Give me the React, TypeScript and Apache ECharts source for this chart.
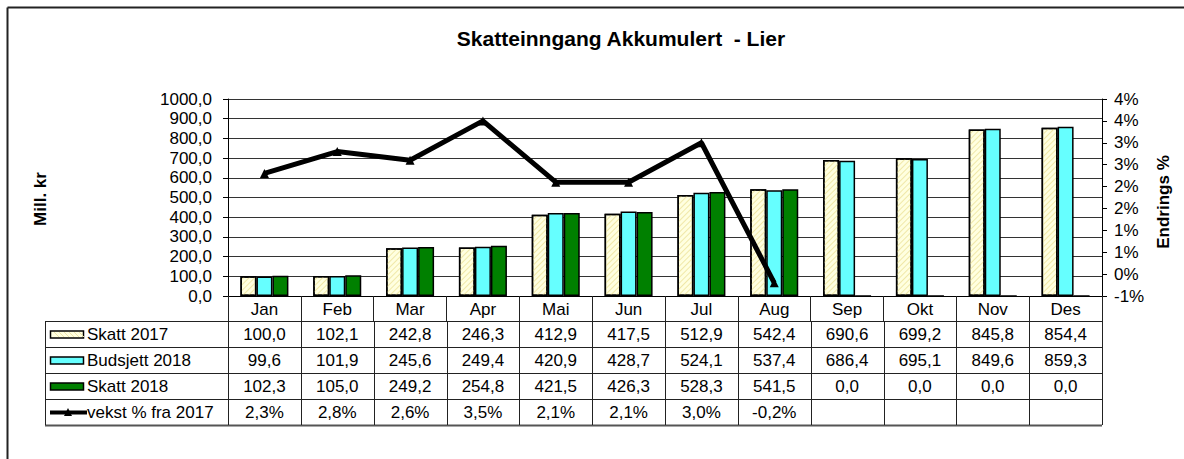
import React, { useEffect, useRef } from "react";
import * as echarts from "echarts";

const categories = ["Jan", "Feb", "Mar", "Apr", "Mai", "Jun", "Jul", "Aug", "Sep", "Okt", "Nov", "Des"];
const skatt2017 = [100.0, 102.1, 242.8, 246.3, 412.9, 417.5, 512.9, 542.4, 690.6, 699.2, 845.8, 854.4];
const budsjett2018 = [99.6, 101.9, 245.6, 249.4, 420.9, 428.7, 524.1, 537.4, 686.4, 695.1, 849.6, 859.3];
const skatt2018 = [102.3, 105.0, 249.2, 254.8, 421.5, 426.3, 528.3, 541.5, 0.0, 0.0, 0.0, 0.0];
const vekst: (number | null)[] = [2.3, 2.8, 2.6, 3.5, 2.1, 2.1, 3.0, -0.2, null, null, null, null];
const seriesNames = ["Skatt 2017", "Budsjett 2018", "Skatt 2018", "vekst % fra 2017"];
const title = "Skatteinngang Akkumulert  - Lier";
const leftAxisName = "Mill. kr";
const rightAxisName = "Endrings %";

const FONT = '"Liberation Sans", Arial, sans-serif';
const FS = 17;
const GRID_L = 228;
const GRID_R = 1102;
const GRID_T = 99;
const GRID_B = 296;
const TABLE_L = 45;
const ROW_TOP = 321;
const ROW_H = 26;

const fmt1 = (v: number) => v.toFixed(1).replace(".", ",");
const fmtPct = (v: number | null) => (v == null ? "" : v.toFixed(1).replace(".", ",") + "%");

function txt(text: string, x: number, y: number, align = "center", extra: any = {}) {
  return {
    type: "text",
    x,
    y,
    silent: true,
    style: {
      text,
      fill: "#000",
      fontSize: FS,
      fontFamily: FONT,
      align,
      verticalAlign: "middle",
      textAlign: align,
      textVerticalAlign: "middle",
      ...extra,
    },
  };
}

export default function App() {
  const ref = useRef<HTMLDivElement>(null);
  useEffect(() => {
    document.body.style.margin = "0";
    const chart = echarts.init(ref.current!, null, { renderer: "svg" });
    const colW = (GRID_R - GRID_L) / categories.length;
    const graphics: any[] = [];
    // outer border
    graphics.push({ type: "line", silent: true, shape: { x1: 7.5, y1: 7.5, x2: 1184, y2: 7.5 }, style: { stroke: "#222", lineWidth: 2 } });
    graphics.push({ type: "line", silent: true, shape: { x1: 7.5, y1: 7.5, x2: 7.5, y2: 459 }, style: { stroke: "#222", lineWidth: 2 } });
    // axis names
    graphics.push(txt(leftAxisName, 40, 199, "center", { fontSize: 17, fontWeight: "bold" }));
    graphics[graphics.length - 1].rotation = Math.PI / 2;
    graphics.push(txt(rightAxisName, 1163, 202, "center", { fontSize: 17, fontWeight: "bold" }));
    graphics[graphics.length - 1].rotation = Math.PI / 2;
    // table lines
    for (let r = 0; r <= 4; r++) {
      const y = ROW_TOP + r * ROW_H + 0.5;
      graphics.push({ type: "line", silent: true, shape: { x1: TABLE_L, y1: y, x2: GRID_R, y2: y }, style: { stroke: r === 4 ? "#555" : "#222", lineWidth: r === 4 ? 2 : 1 } });
    }
    const yBot = ROW_TOP + 4 * ROW_H;
    graphics.push({ type: "line", silent: true, shape: { x1: TABLE_L + 0.5, y1: ROW_TOP, x2: TABLE_L + 0.5, y2: yBot }, style: { stroke: "#222", lineWidth: 1 } });
    for (let i = 0; i <= categories.length; i++) {
      const x = Math.round(GRID_L + i * colW) + 0.5;
      graphics.push({ type: "line", silent: true, shape: { x1: x, y1: ROW_TOP, x2: x, y2: yBot }, style: { stroke: "#222", lineWidth: 1 } });
    }
    // table values
    const rows: string[][] = [
      skatt2017.map(fmt1),
      budsjett2018.map(fmt1),
      skatt2018.map(fmt1),
      vekst.map(fmtPct),
    ];
    rows.forEach((row, r) => {
      const cy = ROW_TOP + r * ROW_H + ROW_H / 2 + 0.5;
      row.forEach((s, i) => {
        if (s) graphics.push(txt(s, GRID_L + (i + 0.5) * colW, cy));
      });
      graphics.push(txt(seriesNames[r], 87, cy, "left"));
    });
    // legend keys
    const keyY = (r: number) => ROW_TOP + r * ROW_H + ROW_H / 2;
    graphics.push({ type: "rect", silent: true, shape: { x: 50.5, y: keyY(0) - 3, width: 33, height: 7 }, style: { fill: "#FFFFE0", stroke: "#000", lineWidth: 1.5 } });
    for (let k = 0; k < 6; k++) {
      const x0 = 54 + k * 5;
      graphics.push({ type: "line", silent: true, shape: { x1: x0, y1: keyY(0) - 2, x2: x0 + 5, y2: keyY(0) + 3 }, style: { stroke: "#EEE6A8", lineWidth: 1 } });
    }
    graphics.push({ type: "rect", silent: true, shape: { x: 50.5, y: keyY(1) - 3, width: 33, height: 7 }, style: { fill: "#66FFFF", stroke: "#000", lineWidth: 1.5 } });
    graphics.push({ type: "rect", silent: true, shape: { x: 50.5, y: keyY(2) - 3, width: 33, height: 7 }, style: { fill: "#008000", stroke: "#000", lineWidth: 1.5 } });
    graphics.push({ type: "line", silent: true, shape: { x1: 50, y1: keyY(3) + 0.5, x2: 87, y2: keyY(3) + 0.5 }, style: { stroke: "#000", lineWidth: 4 } });
    graphics.push({ type: "polygon", silent: true, shape: { points: [[68, keyY(3) - 4], [64, keyY(3) + 4], [72, keyY(3) + 4]] }, style: { fill: "#000" } });

    const barBase = {
      type: "bar",
      barWidth: 16,
      barGap: "0%",
      yAxisIndex: 0,
    };

    chart.setOption({
      animation: false,
      backgroundColor: "#fff",
      textStyle: { fontFamily: FONT },
      title: {
        text: title,
        left: 616,
        textAlign: "center",
        top: 23,
        textStyle: { fontSize: 21, fontWeight: "bold", color: "#000", fontFamily: FONT },
      },
      grid: { left: GRID_L, right: 1184 - GRID_R, top: GRID_T, bottom: 459 - GRID_B, containLabel: false },
      xAxis: {
        type: "category",
        data: categories,
        axisLine: { lineStyle: { color: "#000", width: 1 } },
        axisTick: { show: true, length: 25, interval: 0, lineStyle: { color: "#222" } },
        axisLabel: { color: "#000", fontSize: FS, fontFamily: FONT, margin: 5, interval: 0 },
      },
      yAxis: [
        {
          type: "value",
          min: 0,
          max: 1000,
          interval: 100,
          axisLine: { show: true, lineStyle: { color: "#000" } },
          axisTick: { show: true, length: 5, lineStyle: { color: "#000" } },
          axisLabel: { color: "#000", fontSize: FS, fontFamily: FONT, margin: 16, formatter: (v: number) => fmt1(v) },
          splitLine: { show: true, lineStyle: { color: "#333", width: 1 } },
        },
        {
          type: "value",
          min: -0.5,
          max: 4,
          interval: 0.5,
          axisLine: { show: true, lineStyle: { color: "#000" } },
          axisTick: { show: true, length: 5, lineStyle: { color: "#000" } },
          axisLabel: {
            color: "#000",
            fontSize: FS,
            fontFamily: FONT,
            margin: 12,
            formatter: (v: number) => {
              const r = Math.sign(v) * Math.round(Math.abs(v) + 1e-9);
              return (r === 0 ? 0 : r) + "%";
            },
          },
          splitLine: { show: false },
        },
      ],
      series: [
        {
          ...barBase,
          name: seriesNames[0],
          data: skatt2017,
          itemStyle: {
            color: "#FFFFE0",
            borderColor: "#000",
            borderWidth: 1.5,
            decal: {
              symbol: "rect",
              symbolSize: 1,
              color: "#F0E8A8",
              dashArrayX: [1, 0],
              dashArrayY: [1, 3],
              rotation: -Math.PI / 4,
            },
          },
        },
        {
          ...barBase,
          name: seriesNames[1],
          data: budsjett2018,
          itemStyle: { color: "#66FFFF", borderColor: "#000", borderWidth: 1.5 },
        },
        {
          ...barBase,
          name: seriesNames[2],
          data: skatt2018,
          itemStyle: { color: "#008000", borderColor: "#000", borderWidth: 1.5 },
        },
        {
          type: "line",
          name: seriesNames[3],
          yAxisIndex: 1,
          data: vekst,
          z: 5,
          symbol: "triangle",
          symbolSize: 9,
          lineStyle: { color: "#000", width: 5 },
          itemStyle: { color: "#000" },
        },
      ],
      graphic: graphics,
    });
    return () => chart.dispose();
  }, []);
  return <div ref={ref} style={{ width: 1184, height: 459 }} />;
}
